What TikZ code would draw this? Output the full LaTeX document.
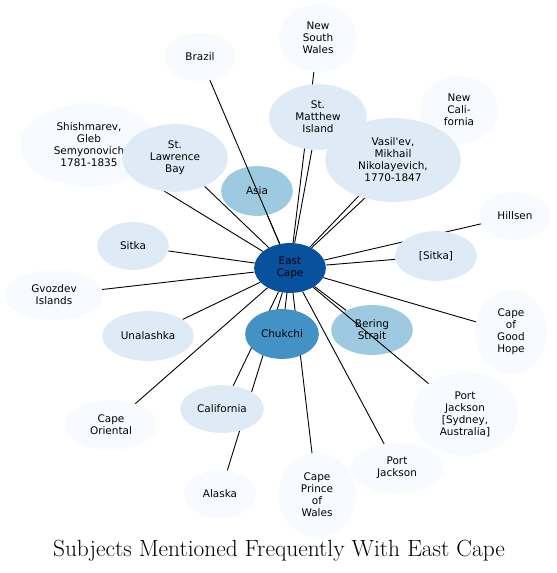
\documentclass[tikz,border=0pt]{standalone}
\usepackage{fontspec}
\setsansfont{DejaVu Sans}
\usepackage{tikz}
\usetikzlibrary{shapes.geometric, backgrounds}

\definecolor{capedark}{HTML}{08519C}
\definecolor{capemid}{HTML}{4292C6}
\definecolor{capesky}{HTML}{9ECAE1}
\definecolor{capepale}{HTML}{DEEBF7}
\definecolor{capewhite}{HTML}{F7FBFF}

\tikzset{
  subj/.style={ellipse, draw=none, inner sep=0pt, align=center,
    font=\sffamily\fontsize{10.5}{12}\selectfont},
  lvlA/.style={subj, fill=capewhite},
  lvlB/.style={subj, fill=capepale},
  lvlC/.style={subj, fill=capesky},
  lvlD/.style={subj, fill=capemid},
  lvlE/.style={subj, fill=capedark},
  link/.style={line width=0.9bp, black}
}

\begin{document}
\begin{tikzpicture}[x=1bp, y=-1bp]
\useasboundingbox (0,0) rectangle (557,573);

% subjects
\node[lvlE, minimum width=72, minimum height=50] (ec) at (290,268) {East\\Cape};
\node[lvlA, minimum width=72, minimum height=48] (brazil) at (200,57) {Brazil};
\node[lvlA, minimum width=78, minimum height=68] (nsw) at (318,38) {New\\South\\Wales};
\node[lvlB, minimum width=98, minimum height=66] (stmatthew) at (318,117) {St.\\Matthew\\Island};
\node[lvlA, minimum width=78, minimum height=68] (newcal) at (459,110) {New\\Cali-\\fornia};
\node[lvlB, minimum width=136, minimum height=84] (vasilev) at (393,160) {Vasil\textquotesingle ev,\\Mikhail\\Nikolayevich,\\1770-1847};
\node[lvlA, minimum width=138, minimum height=84] (shishmarev) at (89,145) {Shishmarev,\\Gleb\\Semyonovich\\1781-1835};
\node[lvlB, minimum width=106, minimum height=68] (stlawrence) at (175,158) {St.\\Lawrence\\Bay};
\node[lvlC, minimum width=72, minimum height=50] (asia) at (257,191) {Asia};
\node[lvlA, minimum width=72, minimum height=48] (hillsen) at (515,216) {Hillsen};
\node[lvlB, minimum width=72, minimum height=48] (sitka) at (133,246) {Sitka};
\node[lvlB, minimum width=82, minimum height=50] (sitkab) at (436,256) {[Sitka]};
\node[lvlA, minimum width=98, minimum height=50] (gvozdev) at (54,295) {Gvozdev\\Islands};
\node[lvlB, minimum width=92, minimum height=50] (unalashka) at (148,336) {Unalashka};
\node[lvlD, minimum width=74, minimum height=50] (chukchi) at (282,334) {Chukchi};
\node[lvlC, minimum width=82, minimum height=50] (bering) at (372,330) {Bering\\Strait};
\node[lvlA, minimum width=72, minimum height=84] (goodhope) at (511,332) {Cape\\of\\Good\\Hope};
\node[lvlA, minimum width=92, minimum height=50] (oriental) at (111,425) {Cape\\Oriental};
\node[lvlB, minimum width=84, minimum height=48] (california) at (222,409) {California};
\node[lvlA, minimum width=106, minimum height=84] (pjsydney) at (465,414) {Port\\Jackson\\{[Sydney,}\\Australia]};
\node[lvlA, minimum width=92, minimum height=50] (pjackson) at (397,468) {Port\\Jackson};
\node[lvlA, minimum width=72, minimum height=48] (alaska) at (220,494) {Alaska};
\node[lvlA, minimum width=78, minimum height=84] (princewales) at (317,495) {Cape\\Prince\\of\\Wales};

% links under the subjects
\begin{scope}[on background layer]
\foreach \s in {nsw, stmatthew, newcal, vasilev, shishmarev, stlawrence, asia,
  hillsen, sitka, sitkab, gvozdev, unalashka, chukchi, bering, goodhope,
  oriental, california, pjackson, alaska, princewales}
  \draw[link] (ec) -- (\s);
\end{scope}
% these two cross over other subjects
\draw[link] (ec) -- (brazil);
\draw[link] (ec) -- (pjsydney);

\node[font=\fontsize{23.5}{28}\selectfont] (title) at (279,551) {Subjects Mentioned Frequently With East Cape};
\end{tikzpicture}
\end{document}
